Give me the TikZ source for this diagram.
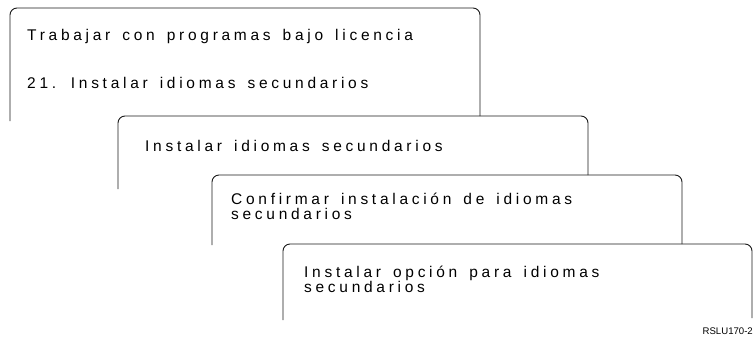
\documentclass[tikz,border=0pt]{standalone}
\usepackage{fontspec}
\setmainfont{Liberation Sans}
\newfontfamily\screenfont{Liberation Sans}[LetterSpace=24,WordSpace=1.5]
\usetikzlibrary{positioning}
\tikzset{
  screen/.style={draw=black!90,line width=0.9pt,rounded corners=7pt},
  screentext/.style={anchor=base west,inner sep=0pt,align=left,text=black,font=\screenfont\fontsize{15.5}{14.5}\selectfont},
  reflabel/.style={anchor=base east,inner sep=0pt,font=\fontsize{9.6}{11}\selectfont}
}

\begin{document}
\begin{tikzpicture}[x=1pt,y=-1pt]
  \useasboundingbox (0,0) rectangle (755,338);
  % stacked screens, each open at the bottom
  \draw[screen] (10,121) -- (10,8) -- (480,8) -- (480,116);
  \draw[screen] (118,189) -- (118,116) -- (588,116) -- (588,175);
  \draw[screen] (212,245) -- (212,175) -- (682,175) -- (682,244);
  \draw[screen] (283,320) -- (283,244) -- (752,244) -- (752,318);
  % screen titles (base = last line)
  \node[screentext] (trabajar) at (27,40) {Trabajar con programas bajo licencia};
  \node[screentext] (opcion21) at (27,88) {21. Instalar idiomas secundarios};
  \node[screentext] (instalar) at (145,151) {Instalar idiomas secundarios};
  \node[screentext] (confirmar) at (231,219) {Confirmar instalación de idiomas\\secundarios};
  \node[screentext] (opcion) at (304,292) {Instalar opción para idiomas\\secundarios};
  \node[reflabel] (ref) at (753,334) {RSLU170-2};
\end{tikzpicture}
\end{document}
